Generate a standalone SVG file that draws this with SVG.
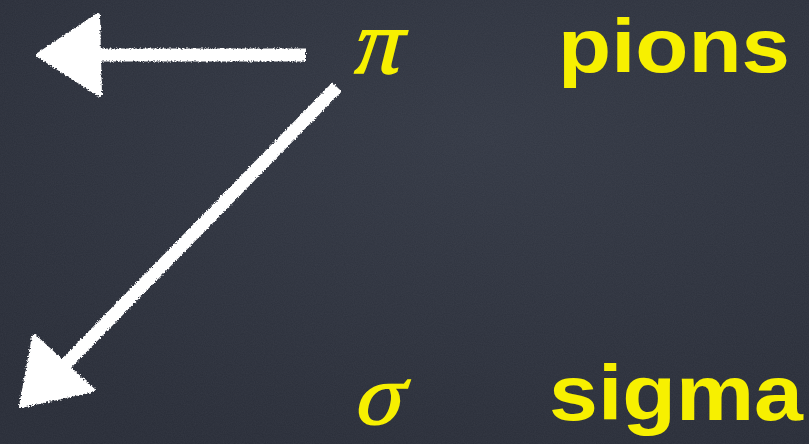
<svg xmlns="http://www.w3.org/2000/svg" width="809" height="444" viewBox="0 0 809 444">
<defs>
<filter id="noise" x="0" y="0" width="100%" height="100%">
<feTurbulence type="fractalNoise" baseFrequency="0.9" numOctaves="2" seed="3" result="n"/>
<feColorMatrix type="matrix" values="0 0 0 0 0.5  0 0 0 0 0.52  0 0 0 0 0.58  0 0 0 0.08 0"/>
</filter>
<filter id="chalk" x="-10%" y="-10%" width="120%" height="120%">
<feTurbulence type="fractalNoise" baseFrequency="0.6" numOctaves="2" seed="7" result="t"/>
<feDisplacementMap in="SourceGraphic" in2="t" scale="4" xChannelSelector="R" yChannelSelector="G"/>
</filter>
<radialGradient id="bg" cx="0.6" cy="0.3" r="0.8">
<stop offset="0" stop-color="#333844"/>
<stop offset="1" stop-color="#282c37"/>
</radialGradient>
</defs>
<style>
.arrow{fill:#ffffff;stroke:#ffffff;stroke-linejoin:round}
.shaft{stroke:#ffffff;stroke-width:13;stroke-linecap:butt;fill:none}
.sym{font-family:"Liberation Serif","DejaVu Serif",serif;fill:#f7f000;stroke:#f7f000;stroke-width:1.5}
.word{font-family:"Liberation Sans","DejaVu Sans",sans-serif;font-weight:bold;fill:#f7f000}
</style>
<rect width="809" height="444" fill="url(#bg)"/>
<rect width="809" height="444" filter="url(#noise)"/>
<g id="connectors" filter="url(#chalk)">
<g id="arrow-pi-left">
<line class="shaft" x1="306" y1="55" x2="95" y2="55"/>
<polygon class="arrow" stroke-width="4" points="38,55 98,15 100,95"/>
</g>
<g id="arrow-pi-sigma">
<line class="shaft" x1="337" y1="87" x2="50" y2="380"/>
<polygon class="arrow" stroke-width="4" points="21,406 34,336 93,390"/>
</g>
</g>
<g id="node-pi"><text class="sym" transform="translate(350,73) skewX(-14) scale(1.05,1)" font-size="92">π</text></g>
<g id="node-pions"><text class="word" x="558" y="72" font-size="76" textLength="232" lengthAdjust="spacingAndGlyphs">pions</text></g>
<g id="node-sigma-sym"><text class="sym" transform="translate(352,424) skewX(-14) scale(1.05,1)" font-size="86">σ</text></g>
<g id="node-sigma"><text class="word" x="549" y="420" font-size="78" textLength="254" lengthAdjust="spacingAndGlyphs">sigma</text></g>
</svg>
